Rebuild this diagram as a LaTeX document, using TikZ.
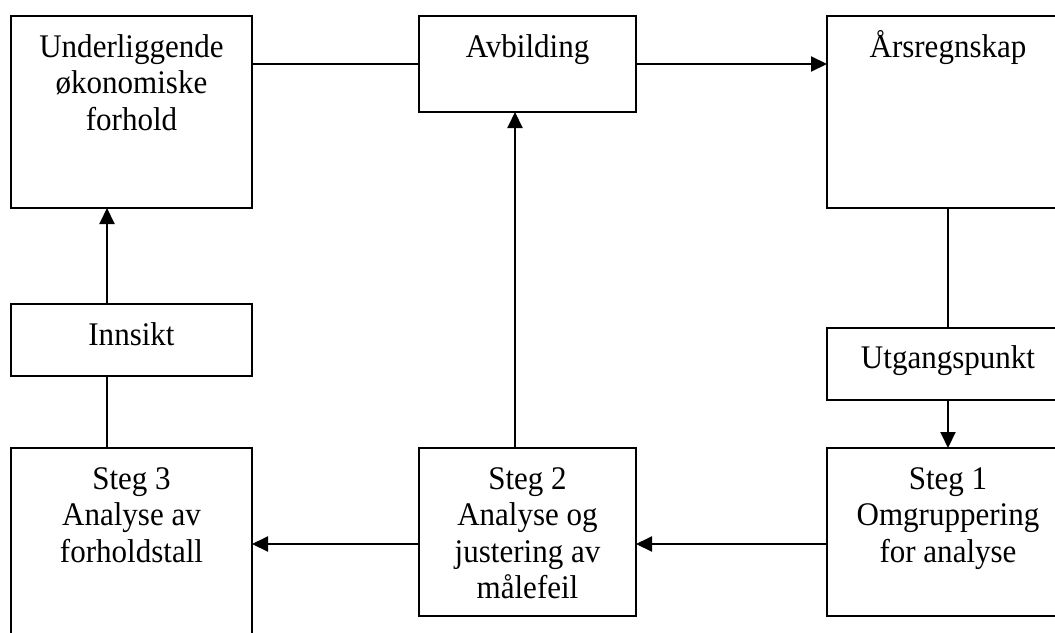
\documentclass[tikz,border=0pt]{standalone}
\usepackage{fontspec}
\setmainfont{Liberation Serif}[FakeStretch=0.94]
\usetikzlibrary{arrows.meta,fit}
\begin{document}
\begin{tikzpicture}[x=0.75pt,y=-0.75pt,
  box/.style={draw, line width=1.5pt, inner sep=0pt, outer sep=0pt},
  txt/.style={anchor=base, inner sep=0pt, font=\fontsize{24.75}{27.4}\selectfont},
  conn/.style={line width=1.5pt},
  arr/.style={conn, -{Triangle[length=12pt,width=11.25pt]}}]
\useasboundingbox (0,0) rectangle (1055,632);
\clip (0,0) rectangle (1055,632);
\fill[white] (0,0) rectangle (1055,632);
% boxes
\node[box, fit={(11,16) (252,208)}] (u) {};
\node[box, fit={(419,16) (636,112)}] (a) {};
\node[box, fit={(827,16) (1069,208)}] (r) {};
\node[box, fit={(11,304) (252,376)}] (i) {};
\node[box, fit={(827,328) (1069,400)}] (up) {};
\node[box, fit={(11,448) (252,644)}] (s3) {};
\node[box, fit={(419,448) (636,616)}] (s2) {};
\node[box, fit={(827,448) (1069,616)}] (s1) {};
% texts
\node[txt] (ut) at (131.5,57) {\begin{tabular}[t]{@{}c@{}}Underliggende\\økonomiske\\forhold\end{tabular}};
\node[txt] (at) at (527.5,57) {Avbilding};
\node[txt] (rt) at (948,57) {Årsregnskap};
\node[txt] (it) at (131.5,345) {Innsikt};
\node[txt] (upt) at (948,368) {Utgangspunkt};
\node[txt] (s3t) at (131.5,489) {\begin{tabular}[t]{@{}c@{}}Steg 3\\Analyse av\\forholdstall\end{tabular}};
\node[txt] (s2t) at (527.5,489) {\begin{tabular}[t]{@{}c@{}}Steg 2\\Analyse og\\justering av\\målefeil\end{tabular}};
\node[txt] (s1t) at (948,489) {\begin{tabular}[t]{@{}c@{}}Steg 1\\Omgruppering\\for analyse\end{tabular}};
% guide coordinates
\coordinate (ca) at (107,0);
\coordinate (cb) at (515,0);
\coordinate (cc) at (948,0);
\coordinate (rm) at (0,544);
% connectors
\draw[conn] (u.east |- a.west) -- (a.west);
\draw[arr] (a.east) -- (r.west |- a.east);
\draw[conn] (cc |- r.south) -- (cc |- up.north);
\draw[arr] (cc |- up.south) -- (cc |- s1.north);
\draw[arr] (s1.west |- rm) -- (s2.east |- rm);
\draw[arr] (s2.west |- rm) -- (s3.east |- rm);
\draw[arr] (cb |- s2.north) -- (cb |- a.south);
\draw[conn] (ca |- s3.north) -- (ca |- i.south);
\draw[arr] (ca |- i.north) -- (ca |- u.south);
\end{tikzpicture}
\end{document}
